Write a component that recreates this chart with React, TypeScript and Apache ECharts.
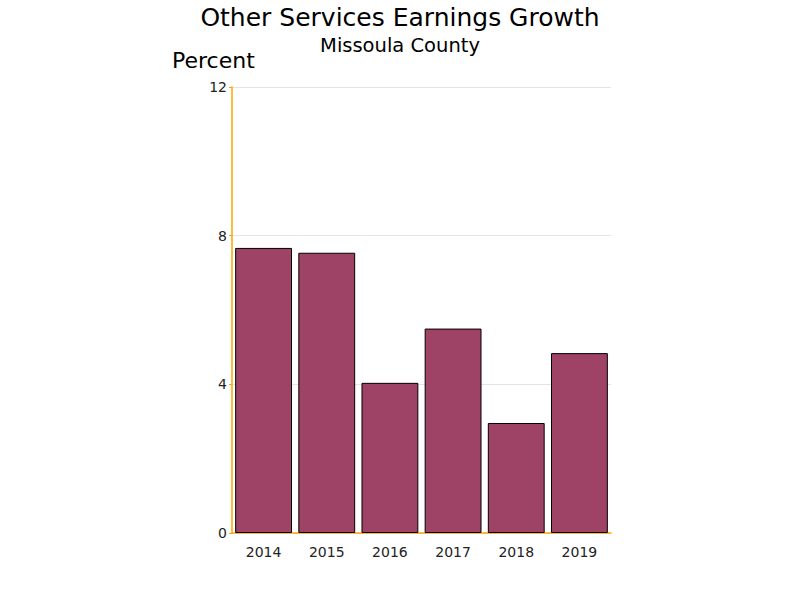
import React, { useEffect, useRef } from "react";
import * as echarts from "echarts";

const categories = ["2014", "2015", "2016", "2017", "2018", "2019"];
const growthValues = [7.67, 7.54, 4.04, 5.5, 2.96, 4.84];
const yTicks = [0, 4, 8, 12];

const FONT = "DejaVu Sans";

export default function App() {
  const ref = useRef<HTMLDivElement>(null);
  useEffect(() => {
    if (!ref.current) return;
    const chart = echarts.init(ref.current, undefined, { renderer: "svg" });
    chart.setOption({
      animation: false,
      backgroundColor: "#ffffff",
      textStyle: { fontFamily: FONT },
      title: [
        {
          text: "Other Services Earnings Growth",
          left: 400,
          top: 5,
          padding: 0,
          textAlign: "center",
          textStyle: { fontFamily: FONT, fontSize: 25, fontWeight: "normal", color: "#000" },
        },
        {
          text: "Missoula County",
          left: 400,
          top: 35,
          padding: 0,
          textAlign: "center",
          textStyle: { fontFamily: FONT, fontSize: 19.5, fontWeight: "normal", color: "#000" },
        },
        {
          text: "Percent",
          left: 172,
          top: 49,
          padding: 0,
          textStyle: { fontFamily: FONT, fontSize: 22, fontWeight: "normal", color: "#000" },
        },
      ],
      grid: { left: 232, right: 189, top: 87, bottom: 67, containLabel: false },
      xAxis: {
        type: "category",
        data: categories,
        axisLine: { show: true, lineStyle: { color: "#FFA500", width: 1.5 } },
        axisTick: { show: false },
        axisLabel: { fontFamily: FONT, fontSize: 14, color: "#222", margin: 12 },
      },
      yAxis: {
        type: "value",
        min: yTicks[0],
        max: yTicks[yTicks.length - 1],
        interval: 4,
        axisLine: { show: true, lineStyle: { color: "#FFA500", width: 1.5 } },
        axisTick: { show: true, length: 3, lineStyle: { color: "#FFA500" } },
        axisLabel: { fontFamily: FONT, fontSize: 14, color: "#222", margin: 5 },
        splitLine: { show: true, lineStyle: { color: "#e4e4e4", width: 1 } },
      },
      series: [
        {
          type: "bar",
          data: growthValues,
          barCategoryGap: "10%",
          itemStyle: { color: "#9E4366", borderColor: "#000", borderWidth: 1 },
        },
      ],
    });
    return () => chart.dispose();
  }, []);
  return <div ref={ref} style={{ width: 800, height: 600, position: "absolute", left: 0, top: 0 }} />;
}
